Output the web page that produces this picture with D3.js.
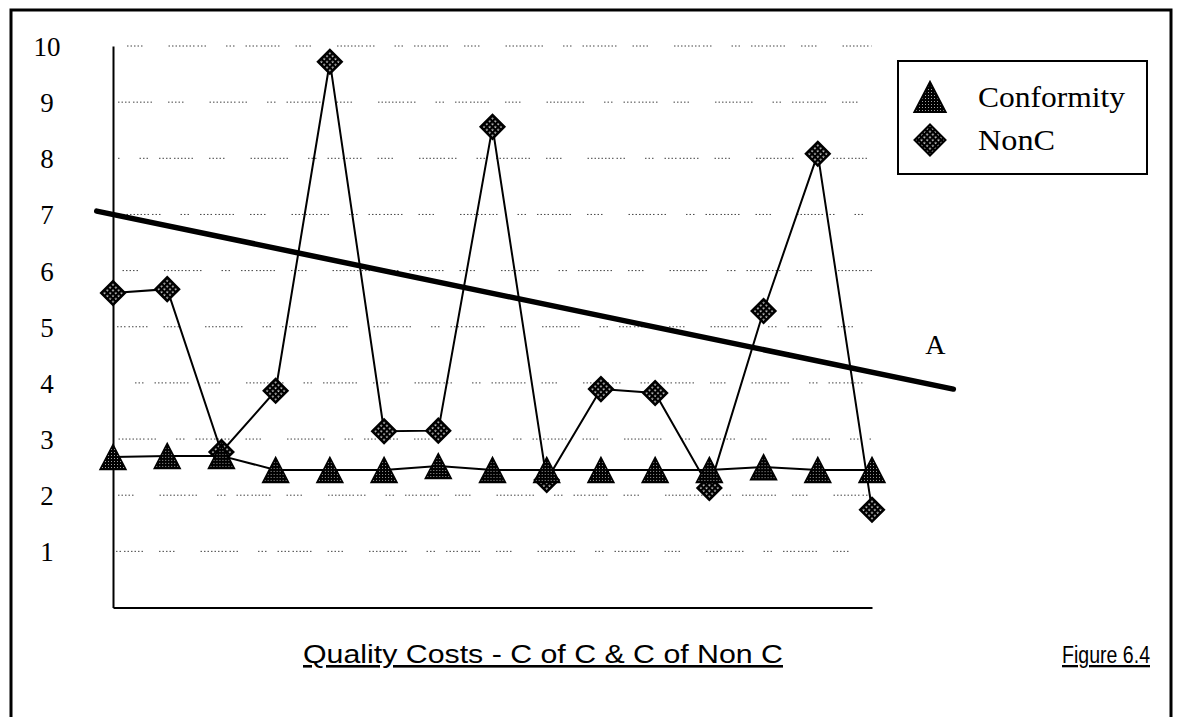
<!DOCTYPE html>
<html>
<head>
<meta charset="utf-8">
<script src="https://cdn.jsdelivr.net/npm/d3@7"></script>
<style>
  html, body { margin: 0; padding: 0; background: #fff; }
  svg { display: block; }
</style>
</head>
<body>
<svg id="chart" width="1178" height="717"></svg>
<script>
// Quality costs per period: cost of conformity vs cost of non-conformity
const periods = [1, 2, 3, 4, 5, 6, 7, 8, 9, 10, 11, 12, 13, 14, 15];
const conformity = [2.68, 2.70, 2.70, 2.45, 2.45, 2.45, 2.52, 2.45, 2.45, 2.45, 2.45, 2.45, 2.50, 2.45, 2.45];
const nonConformity = [5.60, 5.67, 2.77, 3.86, 9.72, 3.14, 3.15, 8.56, 2.27, 3.89, 3.82, 2.13, 5.28, 8.08, 1.74];
const yTicks = [1, 2, 3, 4, 5, 6, 7, 8, 9, 10];
// Hand-drawn trend line "A" (period, value) end points
const trendPeriods = [0.7, 16.5];
const trendValues = [7.06, 3.89];
const seriesNames = ["Conformity", "NonC"];
const titleText = "Quality Costs - C of C & C of Non C";
const figureText = "Figure 6.4";
const trendLabel = "A";

const svg = d3.select("#chart");
const serif = "'Liberation Serif', 'Times New Roman', serif";
const sans = "'Liberation Sans', Arial, sans-serif";

const x = d3.scaleLinear().domain([1, 15]).range([113, 872]);
const y = d3.scaleLinear().domain([0, 10]).range([607.5, 46]);

// Fill patterns for the markers
const defs = svg.append("defs");
const triPat = defs.append("pattern").attr("id", "triFill")
  .attr("patternUnits", "userSpaceOnUse").attr("width", 3).attr("height", 3);
triPat.append("rect").attr("width", 3).attr("height", 3).attr("fill", "#000");
triPat.append("rect").attr("x", 1).attr("y", 1).attr("width", 0.8).attr("height", 0.8).attr("fill", "#fff");

const diaPat = defs.append("pattern").attr("id", "diaFill")
  .attr("patternUnits", "userSpaceOnUse").attr("width", 4).attr("height", 4)
  .attr("patternTransform", "rotate(45)");
diaPat.append("rect").attr("width", 4).attr("height", 4).attr("fill", "#000");
diaPat.append("rect").attr("x", 1.4).attr("y", 1.4).attr("width", 1.5).attr("height", 1.5).attr("fill", "#fff");

// Outer frame
svg.append("rect")
  .attr("x", 11).attr("y", 10).attr("width", 1160).attr("height", 720)
  .attr("fill", "none").attr("stroke", "#000").attr("stroke-width", 3);

// Broken dotted gridlines
const gridDash = "1.5,2,1.5,2,1.5,2,1.5,3,1.5,2,1.5,2,1.5,2,1.5,2,1.5,2,1.5,16,1.5,2,1.5,2,1.5,2,1.5,2,1.5,26,1.5,2,1.5,2,1.5,2,1.5,2,1.5,2,1.5,2,1.5,2,1.5,3,1.5,2,1.5,2,1.5,20,1.5,2,1.5,2,1.5,11";
svg.append("g").selectAll("line").data(yTicks).join("line")
  .attr("x1", x(1) + 3).attr("x2", x(15))
  .attr("y1", d => y(d)).attr("y2", d => y(d))
  .attr("stroke", "#444").attr("stroke-width", 1)
  .attr("stroke-dasharray", gridDash)
  .attr("stroke-dashoffset", (d, i) => i * 41 + 7);

// Axes
const yAxis = svg.append("g").attr("transform", `translate(${x(1)},0)`)
  .call(d3.axisLeft(y).tickValues(yTicks).tickSize(0).tickFormat(d3.format("d")));
yAxis.select(".domain").attr("stroke", "#000").attr("stroke-width", 2);
yAxis.selectAll("text")
  .attr("x", -66).attr("dy", "0.35em")
  .attr("text-anchor", "middle")
  .style("font-family", serif).style("font-size", "27px").attr("fill", "#000");

const xAxis = svg.append("g").attr("transform", `translate(0,${y(0)})`)
  .call(d3.axisBottom(x).tickValues([]).tickSize(0).tickSizeOuter(0));
xAxis.select(".domain").attr("stroke", "#000").attr("stroke-width", 2);

// Series lines
const line = d3.line().x((d, i) => x(periods[i])).y(d => y(d));
svg.append("path").datum(conformity).attr("d", line)
  .attr("fill", "none").attr("stroke", "#000").attr("stroke-width", 2);
svg.append("path").datum(nonConformity).attr("d", line)
  .attr("fill", "none").attr("stroke", "#000").attr("stroke-width", 2);

// Trend line A
const trend = trendPeriods.map((p, i) => [x(p), y(trendValues[i])]);
svg.append("path").attr("d", d3.line()(trend))
  .attr("fill", "none").attr("stroke", "#000").attr("stroke-width", 5.5)
  .attr("stroke-linecap", "round");
svg.append("text")
  .attr("x", trend[1][0] - 18).attr("y", trend[1][1] - 35)
  .attr("text-anchor", "middle")
  .style("font-family", serif).style("font-size", "28px")
  .text(trendLabel);

// Markers
const triPath = s => `M0,${-s / 2}L${s * 0.52},${s / 2}L${-s * 0.52},${s / 2}Z`;
const diaPath = s => `M0,${-s / 2}L${s / 2},0L0,${s / 2}L${-s / 2},0Z`;
svg.append("g").selectAll("path").data(nonConformity).join("path")
  .attr("transform", (d, i) => `translate(${x(periods[i])},${y(d)})`)
  .attr("d", diaPath(24)).attr("fill", "url(#diaFill)")
  .attr("stroke", "#000").attr("stroke-width", 2.2).attr("stroke-linejoin", "miter");
svg.append("g").selectAll("path").data(conformity).join("path")
  .attr("transform", (d, i) => `translate(${x(periods[i])},${y(d)})`)
  .attr("d", triPath(25)).attr("fill", "url(#triFill)")
  .attr("stroke", "#000").attr("stroke-width", 1.5);

// Legend
const legend = svg.append("g");
legend.append("rect")
  .attr("x", 898).attr("y", 61).attr("width", 249).attr("height", 113)
  .attr("fill", "#fff").attr("stroke", "#000").attr("stroke-width", 2);
const legendRows = [
  { name: seriesNames[0], path: triPath(30), fill: "url(#triFill)", cy: 97, len: 147 },
  { name: seriesNames[1], path: diaPath(31), fill: "url(#diaFill)", cy: 140, len: 77 }
];
const rows = legend.selectAll("g.row").data(legendRows).join("g").attr("class", "row");
rows.append("path")
  .attr("transform", d => `translate(930,${d.cy})`)
  .attr("d", d => d.path).attr("fill", d => d.fill)
  .attr("stroke", "#000").attr("stroke-width", 2);
rows.append("text")
  .attr("x", 978).attr("y", d => d.cy + 10)
  .attr("textLength", d => d.len).attr("lengthAdjust", "spacingAndGlyphs")
  .style("font-family", serif).style("font-size", "29px")
  .text(d => d.name);

// Captions
svg.append("text")
  .attr("x", 303).attr("y", 663)
  .attr("textLength", 480).attr("lengthAdjust", "spacingAndGlyphs")
  .style("font-family", sans).style("font-size", "26px")
  .style("text-decoration", "underline")
  .text(titleText);
svg.append("text")
  .attr("x", 1062).attr("y", 663)
  .attr("textLength", 88).attr("lengthAdjust", "spacingAndGlyphs")
  .style("font-family", sans).style("font-size", "23px")
  .style("text-decoration", "underline")
  .text(figureText);
</script>
</body>
</html>
